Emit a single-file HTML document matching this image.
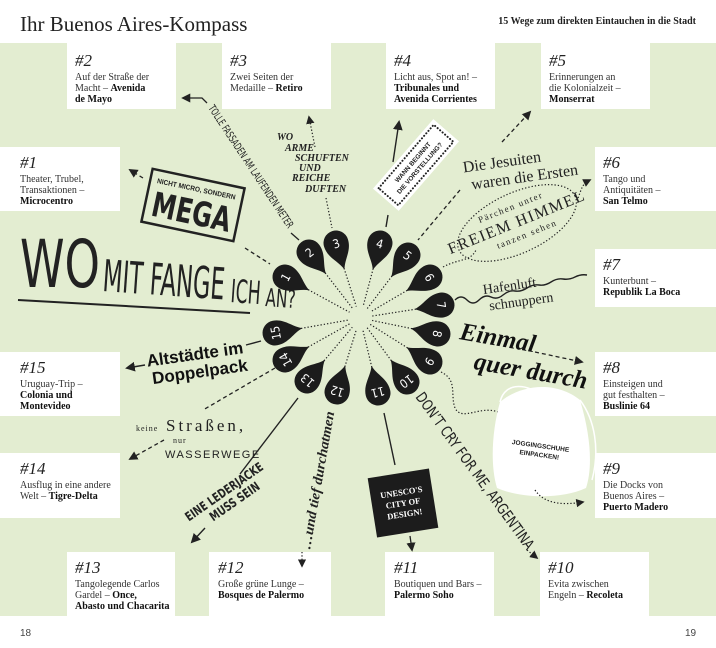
<!DOCTYPE html>
<html><head><meta charset="utf-8"><style>
html,body{margin:0;padding:0;background:#fff}
svg{display:block}
.n{font-family:"Liberation Serif",serif;font-style:italic;font-size:17px;fill:#222}
.b{font-family:"Liberation Serif",serif;font-size:10px;fill:#333}
.bb{font-weight:bold;fill:#111}
.pn{font-family:"DejaVu Sans Condensed","Liberation Sans",sans-serif;font-size:12px;fill:#fff;text-anchor:middle}
.cn{font-family:"DejaVu Sans Condensed","Liberation Sans",sans-serif;fill:#222}
.dot{stroke:#222;stroke-width:1.2;stroke-dasharray:1.3 2;fill:none}
.dash{stroke:#222;stroke-width:1.3;stroke-dasharray:4 3;fill:none}
</style></head><body>
<svg width="716" height="648" viewBox="0 0 716 648" xmlns="http://www.w3.org/2000/svg">
<defs>
<marker id="ah" viewBox="0 0 10 10" refX="8" refY="5" markerWidth="7" markerHeight="7" orient="auto"><path d="M0,0 L10,5 L0,10 Z" fill="#222"/></marker>
<path id="pin" d="M28,0 C18,-3 12,-12.5 0,-12.5 A12.5,12.5 0 1,0 0,12.5 C12,12.5 18,3 28,0Z" fill="#1c1c1c"/>
</defs>
<rect x="0" y="43" width="716" height="573" fill="#e3edd1"/>
<text x="20" y="31" font-family="Liberation Serif,serif" font-size="21" fill="#222">Ihr Buenos Aires-Kompass</text>
<text x="696" y="24" text-anchor="end" font-family="Liberation Serif,serif" font-size="10" font-weight="bold" fill="#222">15 Wege zum direkten Eintauchen in die Stadt</text>
<text x="20" y="636" font-family="Liberation Sans,sans-serif" font-size="10" fill="#444">18</text>
<text x="685" y="636" font-family="Liberation Sans,sans-serif" font-size="10" fill="#444">19</text>

<!-- boxes -->
<g fill="#fff">
<rect x="67" y="43" width="109" height="66"/><rect x="222" y="43" width="109" height="66"/>
<rect x="386" y="43" width="109" height="66"/><rect x="541" y="43" width="109" height="66"/>
<rect x="0" y="147" width="120" height="64"/><rect x="595" y="147" width="121" height="64"/>
<rect x="595" y="249" width="121" height="58"/><rect x="595" y="352" width="121" height="64"/>
<rect x="595" y="453" width="121" height="65"/><rect x="0" y="352" width="120" height="64"/>
<rect x="0" y="453" width="120" height="65"/>
<rect x="67" y="552" width="108" height="64"/><rect x="209" y="552" width="122" height="64"/>
<rect x="385" y="552" width="109" height="64"/><rect x="540" y="552" width="109" height="64"/>
</g>
<text class="n" x="75" y="66">#2</text><text class="b" x="75" y="80">Auf der Straße der</text><text class="b" x="75" y="91">Macht – <tspan class="bb">Avenida</tspan></text><text class="b bb" x="75" y="102">de Mayo</text>
<text class="n" x="230" y="66">#3</text><text class="b" x="230" y="80">Zwei Seiten der</text><text class="b" x="230" y="91">Medaille – <tspan class="bb">Retiro</tspan></text>
<text class="n" x="394" y="66">#4</text><text class="b" x="394" y="80">Licht aus, Spot an! –</text><text class="b bb" x="394" y="91">Tribunales und</text><text class="b bb" x="394" y="102">Avenida Corrientes</text>
<text class="n" x="549" y="66">#5</text><text class="b" x="549" y="80">Erinnerungen an</text><text class="b" x="549" y="91">die Kolonialzeit –</text><text class="b bb" x="549" y="102">Monserrat</text>
<text class="n" x="20" y="168">#1</text><text class="b" x="20" y="182">Theater, Trubel,</text><text class="b" x="20" y="193">Transaktionen –</text><text class="b bb" x="20" y="204">Microcentro</text>
<text class="n" x="603" y="168">#6</text><text class="b" x="603" y="182">Tango und</text><text class="b" x="603" y="193">Antiquitäten –</text><text class="b bb" x="603" y="204">San Telmo</text>
<text class="n" x="603" y="270">#7</text><text class="b" x="603" y="284">Kunterbunt –</text><text class="b bb" x="603" y="295">Republik La Boca</text>
<text class="n" x="603" y="373">#8</text><text class="b" x="603" y="387">Einsteigen und</text><text class="b" x="603" y="398">gut festhalten –</text><text class="b bb" x="603" y="409">Buslinie 64</text>
<text class="n" x="603" y="474">#9</text><text class="b" x="603" y="488">Die Docks von</text><text class="b" x="603" y="499">Buenos Aires –</text><text class="b bb" x="603" y="510">Puerto Madero</text>
<text class="n" x="20" y="373">#15</text><text class="b" x="20" y="387">Uruguay-Trip –</text><text class="b bb" x="20" y="398">Colonia und</text><text class="b bb" x="20" y="409">Montevideo</text>
<text class="n" x="20" y="474">#14</text><text class="b" x="20" y="488">Ausflug in eine andere</text><text class="b" x="20" y="499">Welt – <tspan class="bb">Tigre-Delta</tspan></text>
<text class="n" x="75" y="573">#13</text><text class="b" x="75" y="587">Tangolegende Carlos</text><text class="b" x="75" y="598">Gardel – <tspan class="bb">Once,</tspan></text><text class="b bb" x="75" y="609">Abasto und Chacarita</text>
<text class="n" x="218" y="573">#12</text><text class="b" x="218" y="587">Große grüne Lunge –</text><text class="b bb" x="218" y="598">Bosques de Palermo</text>
<text class="n" x="394" y="573">#11</text><text class="b" x="394" y="587">Boutiquen und Bars –</text><text class="b bb" x="394" y="598">Palermo Soho</text>
<text class="n" x="548" y="573">#10</text><text class="b" x="548" y="587">Evita zwischen</text><text class="b" x="548" y="598">Engeln  – <tspan class="bb">Recoleta</tspan></text>

<!-- dotted spokes -->
<g class="dot">
<line x1="285" y1="277" x2="349.5" y2="312.2"/><line x1="309" y1="252" x2="352.7" y2="308.5"/>
<line x1="336" y1="243" x2="356.3" y2="306.6"/><line x1="380" y1="243" x2="363.1" y2="306.4"/>
<line x1="408" y1="255" x2="367.3" y2="308.5"/><line x1="430" y1="277" x2="370.4" y2="311.9"/>
<line x1="442" y1="305" x2="371.9" y2="316.1"/><line x1="438" y1="334" x2="371.8" y2="320.4"/>
<line x1="430" y1="362" x2="370.2" y2="324.4"/><line x1="407" y1="382" x2="367.1" y2="327.7"/>
<line x1="378" y1="393" x2="362.8" y2="329.7"/><line x1="337" y1="392" x2="356.4" y2="329.5"/>
<line x1="307" y1="381" x2="352.3" y2="327.2"/><line x1="285" y1="360" x2="349.5" y2="323.9"/>
<line x1="275" y1="333" x2="348.2" y2="320.1"/>
</g>

<!-- WOMIT -->
<g class="cn">
<text x="20" y="287" font-size="66" textLength="80" lengthAdjust="spacingAndGlyphs">WO</text>
<text x="102" y="291" font-size="44" textLength="122" lengthAdjust="spacingAndGlyphs" transform="rotate(4 102 291)">MIT FANGE</text>
<text x="230" y="302" font-size="32" textLength="30" lengthAdjust="spacingAndGlyphs" transform="rotate(4 230 302)">ICH</text>
<text x="265" y="306" font-size="25" textLength="30" lengthAdjust="spacingAndGlyphs" transform="rotate(4 265 306)">AN?</text>
</g>
<line x1="18" y1="300" x2="250" y2="313" stroke="#222" stroke-width="2"/>

<!-- pins -->
<g transform="translate(285,277) rotate(28.7)"><use href="#pin"/><text class="pn" transform="rotate(-90)" y="5">1</text></g>
<g transform="translate(309,252) rotate(52.3)"><use href="#pin"/><text class="pn" transform="rotate(-90)" y="5">2</text></g>
<g transform="translate(336,243) rotate(72.3)"><use href="#pin"/><text class="pn" transform="rotate(-90)" y="5">3</text></g>
<g transform="translate(380,243) rotate(105)"><use href="#pin"/><text class="pn" transform="rotate(-90)" y="5">4</text></g>
<g transform="translate(408,255) rotate(127.3)"><use href="#pin"/><text class="pn" transform="rotate(-90)" y="5">5</text></g>
<g transform="translate(430,277) rotate(149.6)"><use href="#pin"/><text class="pn" transform="rotate(-90)" y="5">6</text></g>
<g transform="translate(442,305) rotate(171)"><use href="#pin"/><text class="pn" transform="rotate(-90)" y="5">7</text></g>
<g transform="translate(438,334) rotate(191.6)"><use href="#pin"/><text class="pn" transform="rotate(-90)" y="5">8</text></g>
<g transform="translate(430,362) rotate(212.2)"><use href="#pin"/><text class="pn" transform="rotate(-90)" y="5">9</text></g>
<g transform="translate(407,382) rotate(233.7)"><use href="#pin"/><text class="pn" transform="rotate(-90)" y="5">10</text></g>
<g transform="translate(378,393) rotate(256.5)"><use href="#pin"/><text class="pn" transform="rotate(-90)" y="5">11</text></g>
<g transform="translate(337,392) rotate(-72.7)"><use href="#pin"/><text class="pn" transform="rotate(-90)" y="5">12</text></g>
<g transform="translate(307,381) rotate(-49.9)"><use href="#pin"/><text class="pn" transform="rotate(-90)" y="5">13</text></g>
<g transform="translate(285,360) rotate(-29.2)"><use href="#pin"/><text class="pn" transform="rotate(-90)" y="5">14</text></g>
<g transform="translate(275,333) rotate(-10)"><use href="#pin"/><text class="pn" transform="rotate(-90)" y="5">15</text></g>

<!-- MEGA -->
<g transform="translate(193,205) rotate(12)">
<rect x="-47" y="-27" width="94" height="54" fill="none" stroke="#222" stroke-width="2.5"/>
<text x="-40" y="-14" font-family="Liberation Sans,sans-serif" font-size="7" font-weight="bold" fill="#222" textLength="80" lengthAdjust="spacingAndGlyphs">NICHT MICRO, SONDERN</text>
<text x="-40" y="19" class="cn" font-size="34" font-weight="bold" textLength="80" lengthAdjust="spacingAndGlyphs">MEGA</text>
</g>
<line class="dash" x1="143" y1="178" x2="130" y2="170" marker-end="url(#ah)"/>
<line class="dash" x1="245" y1="248" x2="270" y2="264"/>

<!-- Tolle Fassaden -->
<text class="cn" font-size="10.5" transform="translate(208,108) rotate(56.5)" textLength="145" lengthAdjust="spacingAndGlyphs">TOLLE FASSADEN AM LAUFENDEN METER</text>
<polyline points="207,103 202,98 183,98" fill="none" stroke="#222" stroke-width="1.3" marker-end="url(#ah)"/>
<line x1="291" y1="233" x2="299" y2="240" stroke="#222" stroke-width="1.3"/>

<!-- WO ARME -->
<g font-family="Liberation Serif,serif" font-size="10" font-weight="bold" font-style="italic" fill="#222">
<text x="277" y="140">WO</text><text x="285" y="151">ARME</text><text x="295" y="161">SCHUFTEN</text><text x="299" y="171">UND</text><text x="292" y="181">REICHE</text><text x="305" y="192">DUFTEN</text></g>
<line class="dot" x1="315" y1="147" x2="309" y2="117" marker-end="url(#ah)"/>
<line class="dot" x1="326" y1="198" x2="332" y2="228"/>

<!-- ticket -->
<g transform="translate(416,165) rotate(-49)">
<rect x="-46" y="-17" width="92" height="34" fill="#fff"/>
<rect x="-42" y="-13" width="84" height="26" fill="none" stroke="#222" stroke-width="2" stroke-dasharray="0.1 3.2" stroke-linecap="round"/>
<text x="0" y="-2" text-anchor="middle" font-family="Liberation Sans,sans-serif" font-size="6.5" font-weight="bold" fill="#222">WANN BEGINNT</text>
<text x="0" y="7" text-anchor="middle" font-family="Liberation Sans,sans-serif" font-size="6.5" font-weight="bold" fill="#222">DIE VORSTELLUNG?</text>
</g>
<line x1="393" y1="162" x2="399" y2="122" stroke="#222" stroke-width="1.4" marker-end="url(#ah)"/>
<line x1="388" y1="215" x2="386" y2="227" stroke="#222" stroke-width="1.4"/>

<!-- Jesuiten -->
<g transform="rotate(-8 510 172)" font-family="Liberation Serif,serif" font-size="16" fill="#222">
<text x="464" y="166">Die Jesuiten</text><text x="470" y="184">waren die Ersten</text></g>
<line class="dash" x1="502" y1="142" x2="530" y2="112" marker-end="url(#ah)"/>
<line class="dash" x1="460" y1="190" x2="418" y2="240"/>

<!-- Freiem Himmel -->
<ellipse cx="517" cy="223" rx="64" ry="30" transform="rotate(-25 517 223)" class="dot"/>
<g transform="rotate(-22 517 223)" font-family="Liberation Serif,serif" fill="#222" text-anchor="middle">
<text x="517" y="209" font-size="9" letter-spacing="1.5">Pärchen unter</text>
<text x="517" y="227" font-size="16" letter-spacing="1.5">FREIEM HIMMEL</text>
<text x="522" y="240" font-size="9" letter-spacing="1.5">tanzen sehen</text></g>
<path class="dot" d="M443,267 C460,258 470,262 476,250"/>
<path class="dot" d="M578,198 C582,188 582,184 590,180" marker-end="url(#ah)"/>

<!-- Hafenluft -->
<path d="M455,300 q6,-6 12,0 t12,0 t12,-3 t12,-2 t12,-4 t12,-3 t12,-3 t12,-3 t12,-3 t12,-2 t12,-2" fill="none" stroke="#222" stroke-width="1.4"/>
<g transform="rotate(-8 520 295)" font-family="Liberation Serif,serif" font-size="14" fill="#222">
<text x="484" y="289">Hafenluft</text><text x="488" y="306">schnuppern</text></g>

<!-- Einmal quer durch -->
<g transform="rotate(10 515 355)" font-family="Liberation Serif,serif" font-weight="bold" font-style="italic" fill="#111">
<text x="457" y="349" font-size="25">Einmal</text><text x="476" y="376" font-size="25">quer durch</text></g>
<line class="dash" x1="535" y1="352" x2="582" y2="362" marker-end="url(#ah)"/>

<!-- bag -->
<path class="dot" d="M441,372 C458,380 450,395 455,408 C462,422 480,405 498,412"/>
<path d="M500,402 C520,385 555,380 580,400 C592,440 592,470 586,488 C560,500 520,498 497,488 C490,465 492,430 500,402Z" fill="#fff"/>
<path d="M500,402 C505,380 530,385 540,395 M580,400 C595,420 600,450 592,480" fill="none" stroke="#fff" stroke-width="1.5"/>
<g transform="rotate(8 540 450)" font-family="Liberation Sans,sans-serif" font-size="6.5" font-weight="bold" fill="#222" text-anchor="middle">
<text x="540" y="448">JOGGINGSCHUHE</text><text x="540" y="457">EINPACKEN!</text></g>
<path class="dot" d="M535,490 C545,505 565,505 583,502" marker-end="url(#ah)"/>

<!-- Don't cry -->
<text class="cn" font-size="15" transform="translate(415,397) rotate(54)" textLength="190" lengthAdjust="spacingAndGlyphs">DON’T CRY FOR ME, ARGENTINA</text>
<line class="dot" x1="527" y1="550" x2="537" y2="558" marker-end="url(#ah)"/>

<!-- Unesco -->
<line x1="384" y1="413" x2="395" y2="465" stroke="#222" stroke-width="1.4"/>
<g transform="translate(403,503) rotate(-9)">
<rect x="-31" y="-30" width="62" height="60" fill="#1c1c1c"/>
<g font-family="Liberation Serif,serif" font-size="8.5" font-weight="bold" fill="#fff" text-anchor="middle">
<text y="-8">UNESCO'S</text><text y="3">CITY OF</text><text y="14">DESIGN!</text></g></g>
<line x1="410" y1="536" x2="412" y2="550" stroke="#222" stroke-width="1.3" marker-end="url(#ah)"/>

<!-- Altstaedte -->
<g transform="rotate(-8 195 360)" font-family="Liberation Sans,sans-serif" font-size="17" font-weight="bold" fill="#111">
<text x="147" y="360">Altstädte im</text><text x="150" y="378">Doppelpack</text></g>
<line x1="246" y1="345" x2="261" y2="341" stroke="#222" stroke-width="1.4"/>
<line x1="145" y1="365" x2="127" y2="368" stroke="#222" stroke-width="1.4" marker-end="url(#ah)"/>

<!-- Strassen -->
<g font-family="Liberation Serif,serif" fill="#222">
<text x="136" y="431" font-size="8" letter-spacing="1">keine</text>
<text x="166" y="431" font-size="17" letter-spacing="3">Straßen,</text>
<text x="173" y="443" font-size="8" letter-spacing="1">nur</text>
<text x="165" y="458" font-size="11" letter-spacing="1.5" font-family="Liberation Sans,sans-serif">WASSERWEGE</text></g>
<line class="dash" x1="275" y1="368" x2="203" y2="410"/>
<line class="dash" x1="164" y1="440" x2="130" y2="459" marker-end="url(#ah)"/>

<!-- Lederjacke -->
<line x1="298" y1="398" x2="240" y2="474" stroke="#222" stroke-width="1.4"/>
<g transform="rotate(-35 225 500)" class="cn" font-size="12.5" font-weight="bold">
<text x="183" y="497" textLength="92" lengthAdjust="spacingAndGlyphs">EINE LEDERJACKE</text><text x="203" y="511" textLength="58" lengthAdjust="spacingAndGlyphs">MUSS SEIN</text></g>
<line x1="205" y1="528" x2="192" y2="542" stroke="#222" stroke-width="1.4" marker-end="url(#ah)"/>

<!-- tief durchatmen -->
<text transform="translate(310,550) rotate(-80)" font-family="Liberation Serif,serif" font-size="14" font-style="italic" font-weight="bold" fill="#222" textLength="140" lengthAdjust="spacingAndGlyphs">…und tief durchatmen</text>
<line class="dot" x1="302" y1="552" x2="302" y2="566" marker-end="url(#ah)"/>
</svg>
</body></html>
